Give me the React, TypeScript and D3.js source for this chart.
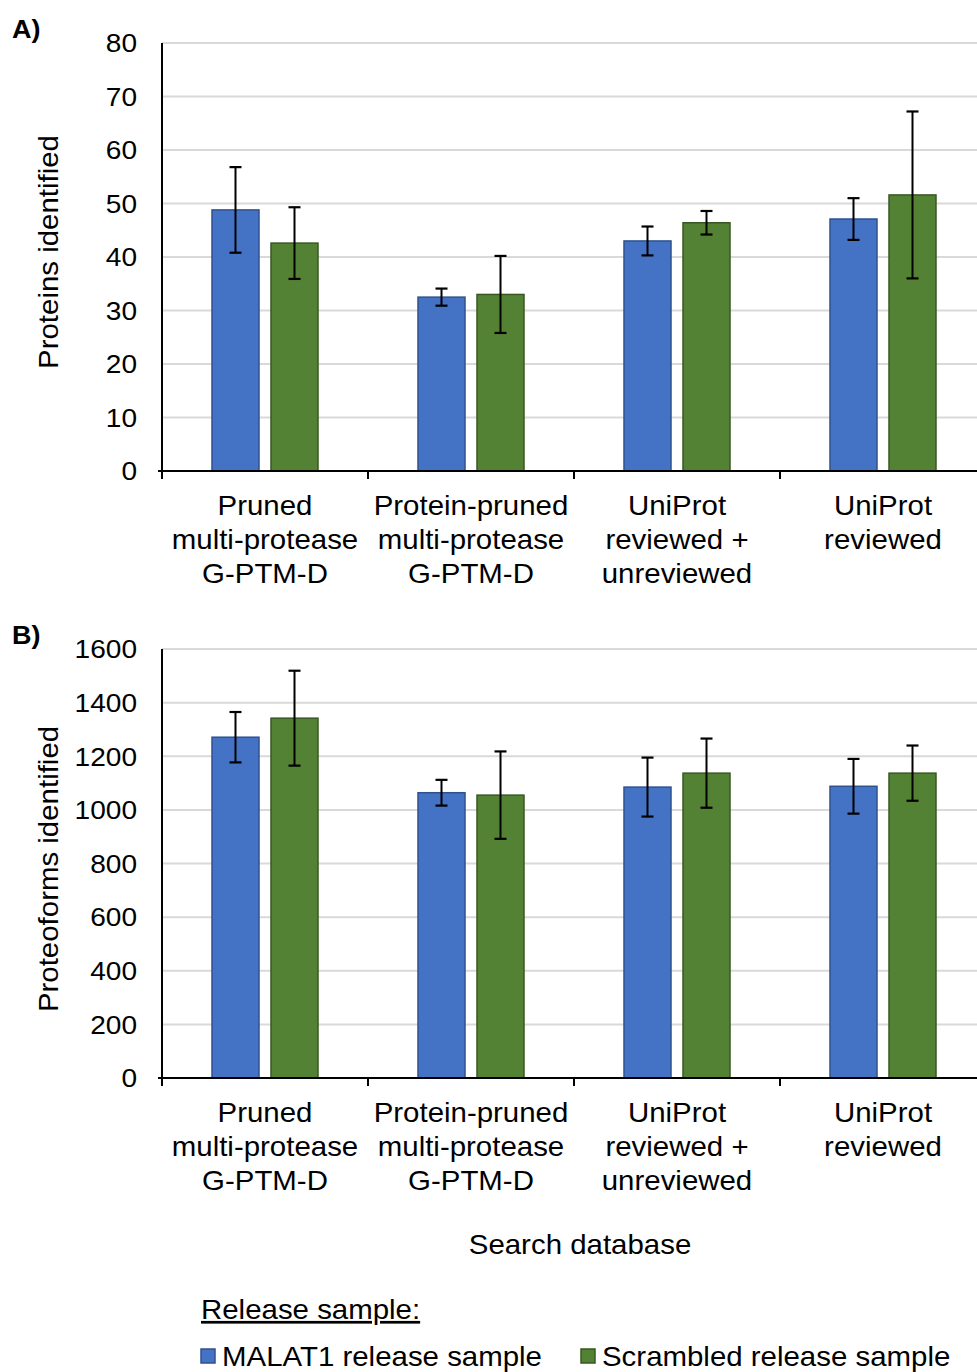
import React from "react";
import * as d3 from "d3";

// Search databases (x categories), drawn as multi-line labels
const categories = [
  "Pruned multi-protease G-PTM-D",
  "Protein-pruned multi-protease G-PTM-D",
  "UniProt reviewed + unreviewed",
  "UniProt reviewed",
];
const categoryLines = [
  ["Pruned", "multi-protease", "G-PTM-D"],
  ["Protein-pruned", "multi-protease", "G-PTM-D"],
  ["UniProt", "reviewed +", "unreviewed"],
  ["UniProt", "reviewed"],
];
const seriesNames = ["MALAT1 release sample", "Scrambled release sample"];

// Panel A: proteins identified (mean, error)
const proteinsMalat1 = [48.8, 32.5, 43.0, 47.1];
const proteinsMalat1Err = [8.0, 1.6, 2.7, 3.9];
const proteinsScrambled = [42.6, 33.0, 46.4, 51.6];
const proteinsScrambledErr = [6.7, 7.2, 2.2, 15.6];
const proteinTicks = [0, 10, 20, 30, 40, 50, 60, 70, 80];

// Panel B: proteoforms identified (mean, error)
const proteoformsMalat1 = [1271, 1064, 1085, 1088];
const proteoformsMalat1Err = [94, 48, 110, 102];
const proteoformsScrambled = [1342, 1055, 1137, 1137];
const proteoformsScrambledErr = [177, 163, 129, 103];
const proteoformTicks = [0, 200, 400, 600, 800, 1000, 1200, 1400, 1600];

const FILL = ["#4472C4", "#548235"];
const EDGE = ["#2F528F", "#385723"];
const FONT = "'Liberation Sans', Arial, sans-serif";
const FS = 26;
const LABEL_FS = 27;
const TICK_STRETCH = 1.08;
const LABEL_STRETCH = 1.09;

const x0 = d3.scaleBand<string>().domain(categories).range([162, 986]).padding(0);
const x1 = d3
  .scaleBand<string>()
  .domain(seriesNames)
  .range([0, x0.bandwidth()])
  .paddingInner(12 / 59)
  .paddingOuter(0.8475);

type PanelProps = {
  tag: string;
  title: string;
  titleY: number;
  top: number;
  bottom: number;
  ticks: number[];
  values: number[][];
  errors: number[][];
};

function Txt(props: {
  x: number;
  y: number;
  anchor?: string;
  size?: number;
  weight?: string;
  rotate?: number;
  stretch?: number;
  dy?: string;
  children: React.ReactNode;
  decoration?: string;
}) {
  const {
    x,
    y,
    anchor = "middle",
    size = LABEL_FS,
    weight = "normal",
    rotate = 0,
    stretch = LABEL_STRETCH,
    dy,
    children,
    decoration,
  } = props;
  return (
    <text
      transform={`translate(${x},${y}) rotate(${rotate}) scale(${stretch},1)`}
      textAnchor={anchor}
      fontSize={size}
      fontWeight={weight}
      fontFamily={FONT}
      fill="#000"
      dy={dy}
      textDecoration={decoration}
    >
      {children}
    </text>
  );
}

function Panel({ tag, title, titleY, top, bottom, ticks, values, errors }: PanelProps) {
  const y = d3.scaleLinear().domain([0, ticks[ticks.length - 1]]).range([bottom, top]);
  const [xMin, xMax] = x0.range();
  return (
    <g>
      <Txt x={12} y={top - 5} anchor="start" weight="bold" size={25} stretch={TICK_STRETCH}>
        {tag}
      </Txt>
      {ticks.slice(1).map((t) => (
        <line key={`g${t}`} x1={xMin} x2={xMax} y1={y(t)} y2={y(t)} stroke="#d9d9d9" strokeWidth={2} />
      ))}
      {ticks.map((t) => (
        <Txt key={`t${t}`} x={137} y={y(t)} anchor="end" dy="0.36em" size={FS} stretch={TICK_STRETCH}>
          {t}
        </Txt>
      ))}
      <Txt x={58} y={titleY} rotate={-90}>
        {title}
      </Txt>
      {categories.map((c, ci) =>
        seriesNames.map((s, si) => {
          const v = values[si][ci];
          const e = errors[si][ci];
          const bx = (x0(c) as number) + (x1(s) as number);
          const bw = x1.bandwidth();
          const cx = bx + bw / 2;
          return (
            <g key={`${c}-${s}`}>
              <rect
                x={bx}
                y={y(v)}
                width={bw}
                height={bottom - y(v)}
                fill={FILL[si]}
                stroke={EDGE[si]}
                strokeWidth={1.5}
              />
              <line x1={cx} x2={cx} y1={y(v + e)} y2={y(v - e)} stroke="#000" strokeWidth={2} />
              <line x1={cx - 6} x2={cx + 6} y1={y(v + e)} y2={y(v + e)} stroke="#000" strokeWidth={2.2} />
              <line x1={cx - 6} x2={cx + 6} y1={y(v - e)} y2={y(v - e)} stroke="#000" strokeWidth={2.2} />
            </g>
          );
        })
      )}
      <line x1={xMin} x2={xMin} y1={top} y2={bottom} stroke="#000" strokeWidth={2} />
      <line x1={xMin - 4} x2={xMax} y1={bottom} y2={bottom} stroke="#000" strokeWidth={2} />
      {categories.map((c) => (
        <line
          key={`tk${c}`}
          x1={x0(c) as number}
          x2={x0(c) as number}
          y1={bottom}
          y2={bottom + 8}
          stroke="#000"
          strokeWidth={2}
        />
      ))}
      {categories.map((c, ci) =>
        categoryLines[ci].map((ln, li) => (
          <Txt key={`${c}-${li}`} x={(x0(c) as number) + x0.bandwidth() / 2} y={bottom + 44 + li * 34}>
            {ln}
          </Txt>
        ))
      )}
    </g>
  );
}

export default function App() {
  return (
    <svg
      width={977}
      height={1372}
      style={{ position: "absolute", left: 0, top: 0, background: "#fff" }}
    >
      <rect width={977} height={1372} fill="#fff" />
      <Panel
        tag="A)"
        title="Proteins identified"
        titleY={252}
        top={43}
        bottom={471}
        ticks={proteinTicks}
        values={[proteinsMalat1, proteinsScrambled]}
        errors={[proteinsMalat1Err, proteinsScrambledErr]}
      />
      <Panel
        tag="B)"
        title="Proteoforms identified"
        titleY={869}
        top={649}
        bottom={1078}
        ticks={proteoformTicks}
        values={[proteoformsMalat1, proteoformsScrambled]}
        errors={[proteoformsMalat1Err, proteoformsScrambledErr]}
      />
      <Txt x={580} y={1254}>
        Search database
      </Txt>
      <Txt x={201} y={1319} anchor="start" decoration="underline">
        Release sample:
      </Txt>
      {seriesNames.map((s, si) => {
        const lx = [200, 580][si];
        return (
          <g key={s}>
            <rect x={lx + 1} y={1349} width={14} height={14} fill={FILL[si]} stroke={EDGE[si]} strokeWidth={1.5} />
            <Txt x={lx + 22} y={1366} anchor="start">
              {s}
            </Txt>
          </g>
        );
      })}
    </svg>
  );
}
